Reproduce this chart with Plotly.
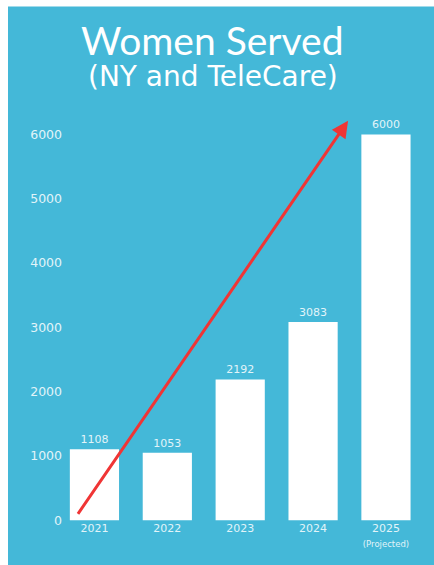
import plotly.graph_objects as go

categories = ["2021", "2022", "2023", "2024", "2025"]
tick_labels = ["2021", "2022", "2023", "2024",
               "2025<br><span style='font-size:8.5px'>(Projected)</span>"]
women_served = [1108, 1053, 2192, 3083, 6000]
y_ticks = [0, 1000, 2000, 3000, 4000, 5000, 6000]

# trend arrow (category index, value)
arrow_start = (-0.24, 80)
arrow_end = (3.48, 6210)

W, H = 434, 565
BLUE = "#44B8D8"
LIGHT = "#E2F4F9"
FONT = "DejaVu Sans"

fig = go.Figure()
fig.add_trace(go.Bar(
    x=list(range(len(categories))), y=women_served,
    marker=dict(color="white", line=dict(width=0)),
    text=[str(v) for v in women_served], textposition="outside",
    textfont=dict(color=LIGHT, size=11, family=FONT),
    cliponaxis=False, width=0.675,
))

fig.add_shape(type="rect", xref="paper", yref="paper",
              x0=8 / W, x1=1.05, y0=-0.05, y1=(H - 6.5) / H,
              fillcolor=BLUE, line=dict(width=0), layer="below")

fig.add_annotation(x=212 / W, y=(H - 41) / H, xref="paper", yref="paper",
                   xanchor="center", yanchor="middle",
                   text="Women Served", showarrow=False,
                   font=dict(size=39, color="white", family="Lato"))
fig.add_annotation(x=213 / W, y=(H - 77) / H, xref="paper", yref="paper",
                   xanchor="center", yanchor="middle",
                   text="(NY and TeleCare)", showarrow=False,
                   font=dict(size=28, color="white", family=FONT))

fig.add_annotation(x=arrow_end[0], y=arrow_end[1], ax=arrow_start[0], ay=arrow_start[1],
                   xref="x", yref="y", axref="x", ayref="y", text="",
                   showarrow=True, arrowhead=2, arrowsize=1.1, arrowwidth=3,
                   arrowcolor="#F03535")

fig.update_layout(
    width=W, height=H, autosize=False, margin=dict(l=0, r=0, t=0, b=0),
    paper_bgcolor="white", plot_bgcolor="rgba(0,0,0,0)",
    showlegend=False,
    xaxis=dict(domain=[58 / W, 422.4 / W], range=[-0.5, 4.5],
               tickmode="array", tickvals=list(range(len(categories))), ticktext=tick_labels,
               showgrid=False, zeroline=False, showline=False, ticks="",
               tickfont=dict(color=LIGHT, size=11, family=FONT)),
    yaxis=dict(domain=[(H - 527) / H, (H - 110) / H], range=[0, 6400],
               anchor="free", position=62 / W,
               tickmode="array", tickvals=y_ticks,
               showgrid=False, zeroline=False, showline=False, ticks="",
               tickfont=dict(color=LIGHT, size=12.5, family=FONT)),
)

fit_window = (
    "document.body.style.margin='0';"
    "document.documentElement.style.overflow='hidden';"
    "var gd=document.getElementsByClassName('plotly-graph-div')[0];"
    "var sz=new Object();sz.width=window.innerWidth;sz.height=window.innerHeight;"
    "Plotly.relayout(gd,sz);"
)

fig.write_html(
    "out.html",
    config={"responsive": False, "displayModeBar": False},
    post_script=fit_window,
)
